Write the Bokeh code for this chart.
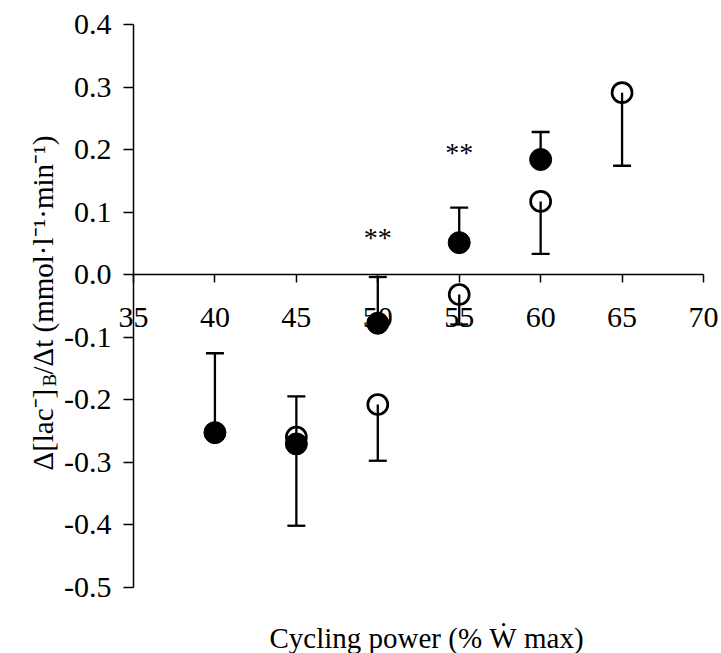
from bokeh.plotting import figure
from bokeh.models import (Range1d, FixedTicker, NumeralTickFormatter, Whisker,
                          TeeHead, ColumnDataSource, Label)
from bokeh.core.properties import value
from bokeh.embed import file_html
from bokeh.resources import INLINE
import math

# Blood lactate rate of change vs cycling power (% of max work rate)
x_ticks = [35, 40, 45, 50, 55, 60, 65, 70]
y_ticks = [-0.5, -0.4, -0.3, -0.2, -0.1, 0.0, 0.1, 0.2, 0.3, 0.4]

# filled circles (mean) with upper error bars
x_filled = [40, 45, 50, 55, 60]
y_filled = [-0.253, -0.271, -0.078, 0.051, 0.184]
filled_upper = [-0.126, -0.195, -0.004, 0.107, 0.228]

# open circles (mean) with lower error bars
x_open = [45, 50, 55, 60, 65]
y_open = [-0.260, -0.208, -0.032, 0.117, 0.291]
open_lower = [-0.402, -0.298, -0.080, 0.033, 0.174]

# significance markers
sig_x = [50, 55]
sig_y = [0.059, 0.195]
sig_text = ["**", "**"]

FONT = "Liberation Serif"
W, H = 721, 653

# the frame fills the canvas; axes sit at fixed data locations and are bounded
px_x = 570 / 35.0     # pixels per x unit
px_y = 562.5 / 0.9    # pixels per y unit
x_range = Range1d(35 - 133 / px_x, 70 + 18 / px_x)
y_range = Range1d(-0.5 - 66.5 / px_y, 0.4 + 24 / px_y)

p = figure(width=W, height=H, x_range=x_range, y_range=y_range,
           output_backend="svg", toolbar_location=None,
           min_border_left=0, min_border_right=0, min_border_top=0, min_border_bottom=0)
p.outline_line_color = None
p.grid.visible = False
p.background_fill_color = "white"
p.border_fill_color = "white"

xa = p.xaxis[0]
xa.fixed_location = 0
xa.bounds = (35, 70)
xa.ticker = FixedTicker(ticks=x_ticks)
xa.major_tick_out = 8
xa.major_tick_in = 0
xa.minor_tick_out = 0
xa.minor_tick_in = 0
xa.major_label_standoff = 25
xa.axis_line_width = 1.5
xa.major_tick_line_width = 1.5
xa.major_label_text_font = FONT
xa.major_label_text_font_size = "30px"
xa.major_label_text_color = "black"
xa.axis_line_color = "black"

ya = p.yaxis[0]
ya.fixed_location = 35
ya.bounds = (-0.5, 0.4)
ya.ticker = FixedTicker(ticks=y_ticks)
ya.formatter = NumeralTickFormatter(format="0.0")
ya.major_tick_out = 10
ya.major_tick_in = 0
ya.minor_tick_out = 0
ya.minor_tick_in = 0
ya.major_label_standoff = 12
ya.axis_line_width = 1.5
ya.major_tick_line_width = 1.5
ya.major_label_text_font = FONT
ya.major_label_text_font_size = "30px"
ya.major_label_text_color = "black"
ya.axis_line_color = "black"

# error bars
src_f = ColumnDataSource(dict(base=x_filled, lower=y_filled, upper=filled_upper))
src_o = ColumnDataSource(dict(base=x_open, lower=open_lower, upper=y_open))
wf = Whisker(source=src_f, base="base", lower="lower", upper="upper", dimension="height",
             line_width=2.3, line_color="black", lower_head=None,
             upper_head=TeeHead(size=18, line_width=2.3, line_color="black"), level="underlay")
wo = Whisker(source=src_o, base="base", lower="lower", upper="upper", dimension="height",
             line_width=2.3, line_color="black", upper_head=None,
             lower_head=TeeHead(size=18, line_width=2.3, line_color="black"), level="underlay")
p.add_layout(wf)
p.add_layout(wo)

p.scatter(x_open, y_open, marker="circle", size=20, fill_color=None,
          line_color="black", line_width=2.7)
p.scatter(x_filled, y_filled, marker="circle", size=22, fill_color="black",
          line_color="black", line_width=1)

p.text(x=sig_x, y=sig_y, text=sig_text, text_align="center", text_baseline="middle",
       text_font=value(FONT), text_font_size="28px", text_color="black")

# x axis title
p.add_layout(Label(x=35 + (426 - 133) / px_x, y=-(637 - 274) / px_y,
                   text="Cycling power (% \u1E86 max)",
                   text_align="center", text_baseline="middle",
                   text_font=FONT, text_font_size="29px", text_color="black"))

# y axis title, rotated, built from pieces for the subscript
ang = math.pi / 2
yl_x = 35 + (42 - 133) / px_x
p.add_layout(Label(x=yl_x, y=-(470 - 274) / px_y, angle=ang, text="\u0394[lac\u207B]",
                   text_align="left", text_baseline="alphabetic",
                   text_font=FONT, text_font_size="29px", text_color="black"))
p.add_layout(Label(x=35 + (49 - 133) / px_x, y=-(386 - 274) / px_y, angle=ang, text="B",
                   text_align="left", text_baseline="alphabetic",
                   text_font=FONT, text_font_size="19px", text_color="black"))
p.add_layout(Label(x=yl_x, y=-(374 - 274) / px_y, angle=ang,
                   text="/\u0394t (mmol\u00B7l\u207B\u00B9\u00B7min\u207B\u00B9)",
                   text_align="left", text_baseline="alphabetic",
                   text_font=FONT, text_font_size="29px", text_color="black"))

open("out.html", "w").write(file_html(p, INLINE))
